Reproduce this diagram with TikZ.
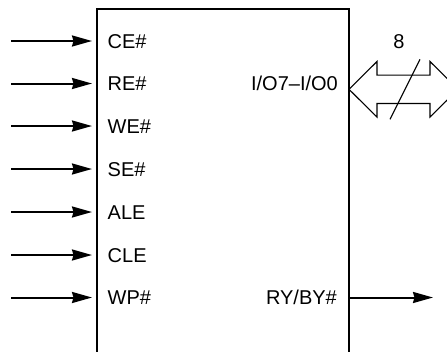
\documentclass[tikz,border=0pt]{standalone}
\usepackage{fontspec}
\setmainfont{Liberation Sans}
\usetikzlibrary{arrows.meta}
\begin{document}
\begin{tikzpicture}[x=1pt,y=-1pt,
  sig/.style={line width=2pt,-{Stealth[length=20pt,width=11pt,inset=1.5pt]}},
  pinlbl/.style={inner sep=0pt,font=\fontsize{20}{24}\selectfont},
  bus/.style={line width=1.1pt,line join=miter}]
\useasboundingbox (0,0) rectangle (447,351);
\clip (0,0) rectangle (447,351);
% chip body (bottom edge lies outside the picture)
\node[draw,line width=2pt,minimum width=252pt,minimum height=400pt,inner sep=0pt,outer sep=0pt,anchor=north west] (chip) at (97,9) {};
% input pins
\foreach \name/\lab/\y in {ce/CE\#/41,re/RE\#/83.5,we/WE\#/126,se/SE\#/169,ale/ALE/212,cle/CLE/255,wp/WP\#/297.5}{
  \coordinate (src\name) at (11,\y);
  \coordinate (dst\name) at (92,\y);
  \draw[sig] (src\name) -- (dst\name);
  \node[pinlbl,anchor=base west] (lbl\name) at (107.5,\y+7) {\lab};
}
% outputs
\node[pinlbl,anchor=base east] (lblio) at (338,90.5) {I/O7–I/O0};
\node[pinlbl,anchor=base east] (lblry) at (337,304.5) {RY/BY\#};
\coordinate (ryout) at (349,297.5);
\coordinate (ryend) at (433,297.5);
\draw[sig] (ryout) -- (ryend);
% bidirectional bus
\coordinate (iotip) at (349,89.3);
\draw[bus] (iotip) -- ++(28,-27.8) -- ++(0,13.6) -- ++(53,0) -- ++(0,-13.6)
  -- ++(28,27.8) -- ++(-28,27.8) -- ++(0,-13.6) -- ++(-53,0) -- ++(0,13.6) -- cycle;
\coordinate (slA) at (390,119.3);
\coordinate (slB) at (420,59.3);
\draw[line width=1.1pt] (slA) -- (slB);
\node[pinlbl,anchor=center] (width) at (399,41.5) {8};
\end{tikzpicture}
\end{document}
